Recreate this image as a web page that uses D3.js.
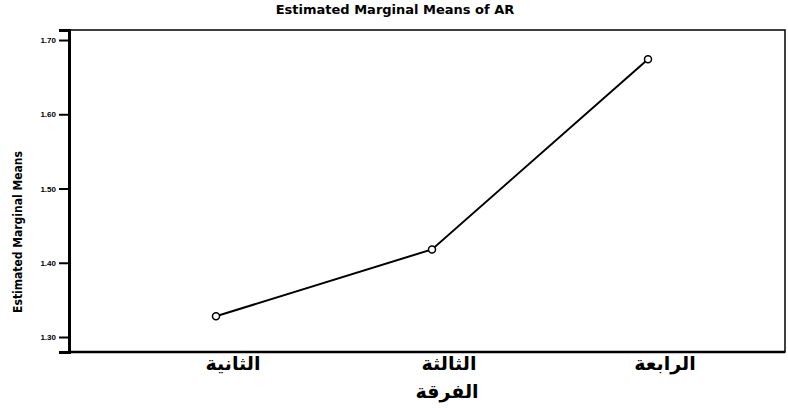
<!DOCTYPE html>
<html>
<head>
<meta charset="utf-8">
<script src="https://cdn.jsdelivr.net/npm/d3@7"></script>
<style>
  body { margin: 0; background: #fff; }
  svg { display: block; }
</style>
</head>
<body>
<div id="wrapper"></div>
<script>
const categories = ["الثانية", "الثالثة", "الرابعة"];
const means = [1.328, 1.418, 1.674];
const yTicks = [1.30, 1.40, 1.50, 1.60, 1.70];

const dimensions = {
    width: 788,
    height: 408,
    margin: { top: 30, right: 3, bottom: 56, left: 69 },
};
dimensions.boundedWidth = dimensions.width - dimensions.margin.left - dimensions.margin.right;
dimensions.boundedHeight = dimensions.height - dimensions.margin.top - dimensions.margin.bottom;

const xScale = d3.scalePoint()
    .domain(categories)
    .range([147, 579]);

const yScale = d3.scaleLinear()
    .domain([1.2798, 1.7135])
    .range([dimensions.boundedHeight, 0]);

const wrapper = d3.select("#wrapper")
    .append("svg")
    .attr("width", dimensions.width)
    .attr("height", dimensions.height);

wrapper.append("text")
    .attr("x", 395)
    .attr("y", 14)
    .attr("text-anchor", "middle")
    .style("font-family", "DejaVu Sans, sans-serif")
    .style("font-weight", "bold")
    .style("font-size", "13px")
    .text("Estimated Marginal Means of AR");

const bounds = wrapper.append("g")
    .attr("transform", `translate(${dimensions.margin.left},${dimensions.margin.top})`);

// frame
bounds.append("rect")
    .attr("x", 0)
    .attr("y", 0)
    .attr("width", dimensions.boundedWidth)
    .attr("height", dimensions.boundedHeight)
    .attr("fill", "none")
    .attr("stroke", "#000")
    .attr("stroke-width", 1.5);

const yAxis = bounds.append("g")
    .call(d3.axisLeft(yScale).tickValues(yTicks).tickFormat(d3.format(".2f")).tickSize(10).tickPadding(3));
yAxis.select(".domain").attr("stroke-width", 3);
yAxis.selectAll(".tick line").attr("stroke-width", 2);
yAxis.selectAll(".tick text")
    .style("font-family", "Liberation Sans, Arial, sans-serif")
    .style("font-size", "8px")
    .style("font-weight", "bold");

bounds.append("line")
    .attr("x1", 0).attr("x2", dimensions.boundedWidth)
    .attr("y1", dimensions.boundedHeight).attr("y2", dimensions.boundedHeight)
    .attr("stroke", "#000")
    .attr("stroke-width", 2.5);

wrapper.append("text")
    .attr("transform", "translate(22,232) rotate(-90)")
    .attr("text-anchor", "middle")
    .style("font-family", "Liberation Sans Narrow, DejaVu Sans Condensed, sans-serif")
    .style("font-weight", "bold")
    .style("font-size", "12px")
    .text("Estimated Marginal Means");

// category labels
bounds.selectAll(".cat")
    .data(categories)
    .join("text")
    .attr("class", "cat")
    .attr("x", d => xScale(d) + 17)
    .attr("y", dimensions.boundedHeight + 18)
    .attr("text-anchor", "middle")
    .style("font-family", "DejaVu Sans, sans-serif")
    .style("font-weight", "bold")
    .style("font-size", "19px")
    .text(d => d);

wrapper.append("text")
    .attr("x", 447)
    .attr("y", 398)
    .attr("text-anchor", "middle")
    .style("font-family", "DejaVu Sans, sans-serif")
    .style("font-weight", "bold")
    .style("font-size", "19px")
    .text("الفرقة");

const points = categories.map((c, i) => ({ c, v: means[i] }));

const line = d3.line()
    .x(d => xScale(d.c))
    .y(d => yScale(d.v));

bounds.append("path")
    .datum(points)
    .attr("d", line)
    .attr("fill", "none")
    .attr("stroke", "#000")
    .attr("stroke-width", 2);

bounds.selectAll("circle")
    .data(points)
    .join("circle")
    .attr("cx", d => xScale(d.c))
    .attr("cy", d => yScale(d.v))
    .attr("r", 3.5)
    .attr("fill", "#fff")
    .attr("stroke", "#000")
    .attr("stroke-width", 1.5);
</script>
</body>
</html>
